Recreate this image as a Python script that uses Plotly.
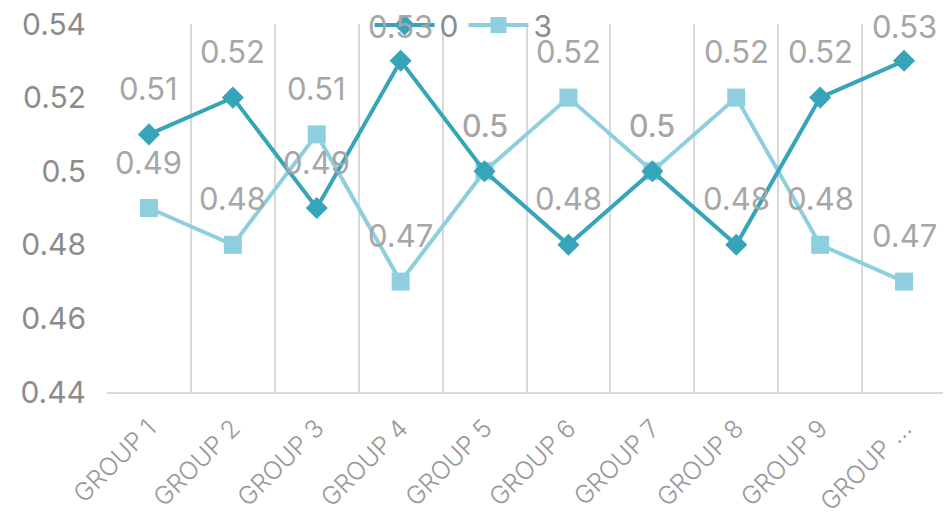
import plotly.graph_objects as go

categories = ["GROUP 1", "GROUP 2", "GROUP 3", "GROUP 4", "GROUP 5",
              "GROUP 6", "GROUP 7", "GROUP 8", "GROUP 9", "GROUP …"]
series_0 = [0.51, 0.52, 0.49, 0.53, 0.50, 0.48, 0.50, 0.48, 0.52, 0.53]
series_3 = [0.49, 0.48, 0.51, 0.47, 0.50, 0.52, 0.50, 0.52, 0.48, 0.47]
y_ticks = [0.44, 0.46, 0.48, 0.50, 0.52, 0.54]
y_tick_text = ["0.44", "0.46", "0.48", "0.5", "0.52", "0.54"]

DARK = "#37A5B9"
LIGHT = "#8ECEDE"
FONT = "Inter, Liberation Sans, Arial, sans-serif"

W, HT = 943, 511
B = 127
H = HT - B
PLOT_H = 368
Y_MIN, Y_MAX = 0.44, 0.54

fig = go.Figure()
fig.add_trace(go.Scatter(x=categories, y=series_3, name="3", mode="lines+markers",
                         line=dict(color=LIGHT, width=4),
                         marker=dict(symbol="square", size=18, color=LIGHT)))
fig.add_trace(go.Scatter(x=categories, y=series_0, name="0", mode="lines+markers",
                         line=dict(color=DARK, width=4),
                         marker=dict(symbol="diamond", size=17, color=DARK)))

def fmt(v):
    return f"{v:.2f}".rstrip("0")

def label_shift(v):
    # keep labels inside the chart: distance from plot top is limited
    px_from_top = (Y_MAX - v) / (Y_MAX - Y_MIN) * PLOT_H
    return min(46, px_from_top - 3)

annotations = []
for vals in (series_0, series_3):
    for c, v in zip(categories, vals):
        annotations.append(dict(x=c, y=v, text=fmt(v), showarrow=False,
                                yshift=label_shift(v),
                                font=dict(family=FONT, size=31, color="#A6A6A6")))

fig.update_layout(
    width=W, height=HT,
    margin=dict(l=99, r=5, t=0, b=B, autoexpand=False),
    paper_bgcolor="white", plot_bgcolor="white",
    font=dict(family=FONT),
    showlegend=True,
    legend=dict(orientation="h", x=0.425, xanchor="center",
                y=(H - 17) / H, yanchor="middle",
                traceorder="reversed",
                font=dict(family=FONT, size=30, color="#8C8C8C"),
                bgcolor="rgba(0,0,0,0)", itemwidth=60),
    annotations=annotations,
    xaxis=dict(type="category", tickson="boundaries", range=[-0.5, 9.5],
               showgrid=True, gridcolor="#D9D9D9", gridwidth=1.5, automargin=False,
               showline=True, linecolor="#D9D9D9", linewidth=1.5,
               ticks="", tickangle=-45, ticklabelstandoff=10,
               tickfont=dict(family=FONT, size=25, color="#999999", weight=300)),
    yaxis=dict(range=[Y_MIN, Y_MAX], tickvals=y_ticks, ticktext=y_tick_text,
               domain=[0, PLOT_H / H], automargin=False, ticklabeloverflow="allow",
               showgrid=False, zeroline=False, showline=False, ticks="",
               ticklabelstandoff=20,
               tickfont=dict(family=FONT, size=30, color="#8C8C8C")),
)

fig.write_html("out.html")
